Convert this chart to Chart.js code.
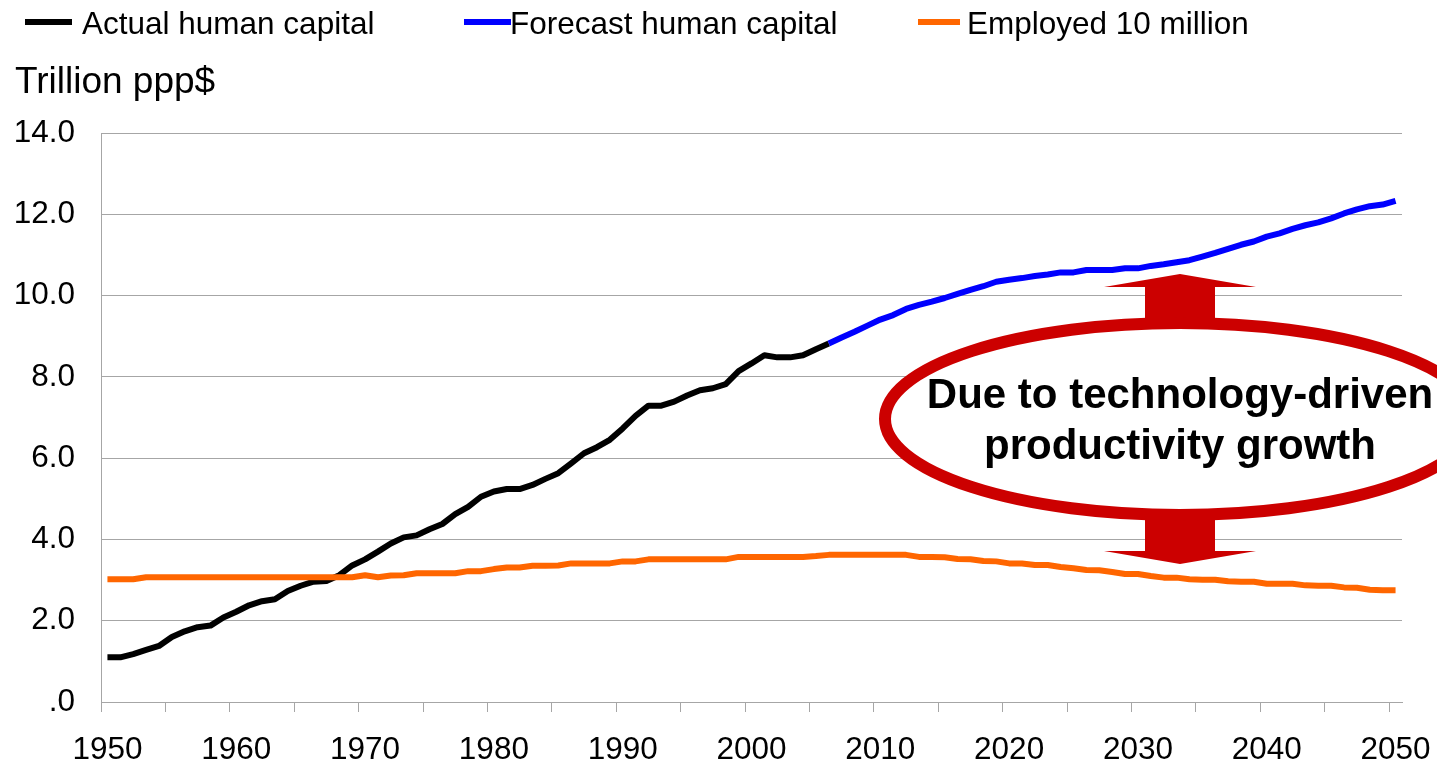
<!DOCTYPE html>
<html>
<head>
<meta charset="utf-8">
<title>Human capital</title>
<script src="https://cdn.jsdelivr.net/npm/chart.js@4.4.1/dist/chart.umd.min.js"></script>
<style>
  body { margin: 0; background: #ffffff; }
  #box { width: 1437px; height: 766px; }
</style>
</head>
<body>
<div id="box"><canvas id="myChart" width="1437" height="766"></canvas></div>
<script>
// categories 1950 - 2050
const years = [
  1950, 1951, 1952, 1953, 1954, 1955, 1956, 1957, 1958, 1959,
  1960, 1961, 1962, 1963, 1964, 1965, 1966, 1967, 1968, 1969,
  1970, 1971, 1972, 1973, 1974, 1975, 1976, 1977, 1978, 1979,
  1980, 1981, 1982, 1983, 1984, 1985, 1986, 1987, 1988, 1989,
  1990, 1991, 1992, 1993, 1994, 1995, 1996, 1997, 1998, 1999,
  2000, 2001, 2002, 2003, 2004, 2005, 2006, 2007, 2008, 2009,
  2010, 2011, 2012, 2013, 2014, 2015, 2016, 2017, 2018, 2019,
  2020, 2021, 2022, 2023, 2024, 2025, 2026, 2027, 2028, 2029,
  2030, 2031, 2032, 2033, 2034, 2035, 2036, 2037, 2038, 2039,
  2040, 2041, 2042, 2043, 2044, 2045, 2046, 2047, 2048, 2049,
  2050,
];
// 1950 - 2006
const actualHuman = [
  1.10, 1.10, 1.18, 1.28, 1.38, 1.60, 1.74, 1.84, 1.88, 2.08,
  2.22, 2.38, 2.48, 2.53, 2.73, 2.86, 2.96, 2.98, 3.12, 3.36,
  3.51, 3.70, 3.90, 4.05, 4.10, 4.25, 4.38, 4.62, 4.80, 5.05,
  5.18, 5.24, 5.24, 5.34, 5.49, 5.63, 5.87, 6.12, 6.27, 6.45,
  6.73, 7.04, 7.29, 7.29, 7.39, 7.54, 7.67, 7.72, 7.82, 8.14,
  8.33, 8.53, 8.48, 8.48, 8.53, 8.68, 8.82,
];
// 2006 - 2050
const forecastHuman = [
  8.82, 8.97, 9.11, 9.26,
  9.41, 9.52, 9.67, 9.77, 9.85, 9.94, 10.04, 10.14, 10.23, 10.34,
  10.39, 10.43, 10.48, 10.52, 10.57, 10.57, 10.63, 10.63, 10.63, 10.67,
  10.67, 10.73, 10.77, 10.82, 10.87, 10.96, 11.05, 11.15, 11.25, 11.33,
  11.45, 11.53, 11.64, 11.73, 11.80, 11.90, 12.02, 12.12, 12.20, 12.24,
  12.33,
];
// 1950 - 2050
const employed10m = [
  3.02, 3.02, 3.02, 3.07, 3.07, 3.07, 3.07, 3.07, 3.07, 3.07,
  3.07, 3.07, 3.07, 3.07, 3.07, 3.07, 3.07, 3.07, 3.07, 3.07,
  3.12, 3.07, 3.11, 3.12, 3.17, 3.17, 3.17, 3.17, 3.22, 3.22,
  3.27, 3.31, 3.31, 3.35, 3.35, 3.36, 3.41, 3.41, 3.41, 3.41,
  3.46, 3.46, 3.51, 3.51, 3.51, 3.51, 3.51, 3.51, 3.51, 3.57,
  3.57, 3.57, 3.57, 3.57, 3.57, 3.59, 3.62, 3.62, 3.62, 3.62,
  3.62, 3.62, 3.62, 3.57, 3.57, 3.56, 3.52, 3.51, 3.47, 3.46,
  3.41, 3.41, 3.37, 3.37, 3.32, 3.29, 3.25, 3.24, 3.20, 3.15,
  3.15, 3.10, 3.06, 3.06, 3.02, 3.01, 3.01, 2.97, 2.96, 2.96,
  2.91, 2.91, 2.91, 2.87, 2.86, 2.86, 2.82, 2.81, 2.76, 2.75,
  2.75,
];
const seriesNames = ["Actual human capital", "Forecast human capital", "Employed 10 million"];
const seriesColors = ["#000000", "#0000ff", "#ff6600"];
const unitLabel = "Trillion ppp$";
const noteLines = ["Due to technology-driven", "productivity growth"];

const FONT = "'Liberation Sans', Arial, sans-serif";
const RED = "#cc0000";
const GRID = "#a6a6a6";

// legend, unit label and the red ellipse note
const notePlugin = {
  id: "notePlugin",
  afterDraw(chart) {
    const c = chart.ctx;
    c.save();
    // legend
    const legendPos = [
      { x1: 25, x2: 72, tx: 82 },
      { x1: 464, x2: 511, tx: 510 },
      { x1: 918, x2: 960, tx: 967 },
    ];
    c.font = "31.5px " + FONT;
    c.textBaseline = "alphabetic";
    legendPos.forEach((p, i) => {
      c.strokeStyle = seriesColors[i];
      c.lineWidth = 6;
      c.beginPath();
      c.moveTo(p.x1, 22);
      c.lineTo(p.x2, 22);
      c.stroke();
      c.fillStyle = "#000";
      c.fillText(seriesNames[i], p.tx, 34);
    });
    // unit label
    c.font = "37px " + FONT;
    c.fillText(unitLabel, 15, 93);

    // arrows
    c.fillStyle = RED;
    c.beginPath();
    c.moveTo(1145, 330);
    c.lineTo(1145, 287);
    c.lineTo(1104, 287);
    c.lineTo(1180, 274);
    c.lineTo(1256, 287);
    c.lineTo(1215, 287);
    c.lineTo(1215, 330);
    c.closePath();
    c.fill();
    c.beginPath();
    c.moveTo(1145, 510);
    c.lineTo(1145, 551);
    c.lineTo(1104, 551);
    c.lineTo(1180, 564);
    c.lineTo(1256, 551);
    c.lineTo(1215, 551);
    c.lineTo(1215, 510);
    c.closePath();
    c.fill();

    // ellipse
    c.beginPath();
    c.ellipse(1180, 419, 295, 96, 0, 0, Math.PI * 2);
    c.fillStyle = "#ffffff";
    c.fill();
    c.lineWidth = 12;
    c.strokeStyle = RED;
    c.stroke();

    c.fillStyle = "#000";
    c.font = "bold 42px " + FONT;
    c.textAlign = "center";
    c.fillText(noteLines[0], 1180, 408);
    c.fillText(noteLines[1], 1180, 459);
    c.restore();
  },
};

function designChart() {
  const ctx = document.getElementById("myChart").getContext("2d");
  const actualData = actualHuman.concat(Array(years.length - actualHuman.length).fill(null));
  const forecastData = Array(years.length - forecastHuman.length).fill(null).concat(forecastHuman);

  Chart.defaults.font.family = FONT;
  Chart.defaults.color = "#000";

  const myLineChart = new Chart(ctx, {
    type: "line",
    data: {
      labels: years,
      datasets: [
        {
          label: seriesNames[0],
          data: actualData,
          borderColor: seriesColors[0],
          borderWidth: 6,
          pointRadius: 0,
          borderJoinStyle: "round",
          order: 2,
        },
        {
          label: seriesNames[1],
          data: forecastData,
          borderColor: seriesColors[1],
          borderWidth: 6,
          pointRadius: 0,
          borderJoinStyle: "round",
          order: 1,
        },
        {
          label: seriesNames[2],
          data: employed10m,
          borderColor: seriesColors[2],
          borderWidth: 6,
          pointRadius: 0,
          borderJoinStyle: "round",
          order: 0,
        },
      ],
    },
    options: {
      responsive: false,
      animation: false,
      layout: { padding: { left: 15, top: 133, right: 35, bottom: 0 } },
      scales: {
        x: {
          type: "category",
          offset: true,
          afterFit(scale) {
            scale.height = 64;
            scale.paddingLeft = 0;
            scale.paddingRight = 0;
          },
          grid: {
            offset: true,
            drawOnChartArea: false,
            drawTicks: true,
            tickLength: 10,
            color: (c) => (c.index % 5 === 0 ? GRID : "rgba(0,0,0,0)"),
          },
          border: { display: true, color: GRID },
          ticks: {
            autoSkip: false,
            maxRotation: 0,
            minRotation: 0,
            padding: 19,
            font: { size: 31.5 },
            callback: function (value, index) {
              return years[index] % 10 === 0 ? String(years[index]) : "";
            },
          },
        },
        y: {
          min: 0,
          max: 14,
          afterFit(scale) {
            scale.width = 86;
          },
          grid: { color: GRID, drawTicks: false },
          border: { display: true, color: GRID },
          ticks: {
            stepSize: 2,
            padding: 26,
            font: { size: 31.5 },
            callback: (v) => (v === 0 ? ".0" : v.toFixed(1)),
          },
        },
      },
      plugins: {
        legend: { display: false },
        title: { display: false },
        tooltip: { enabled: false },
      },
    },
    plugins: [notePlugin],
  });
  return myLineChart;
}
designChart();
</script>
</body>
</html>
